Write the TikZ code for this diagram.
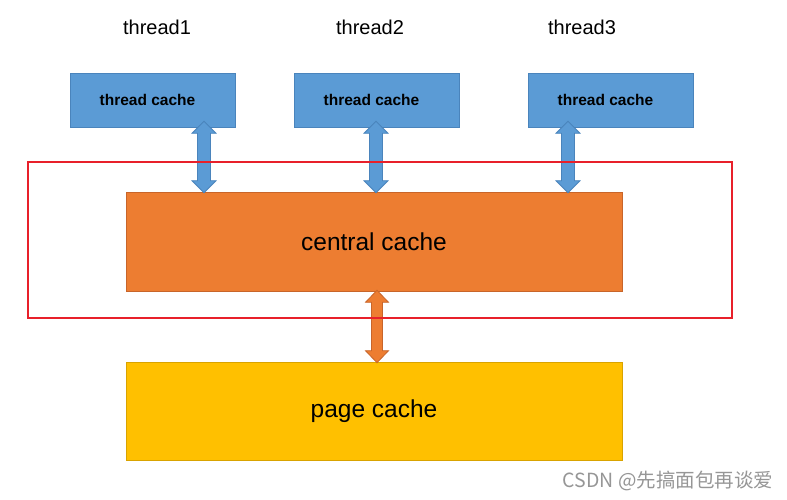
\documentclass[tikz,border=0pt]{standalone}
\usepackage{fontspec}
\setmainfont{Liberation Sans}
\newfontfamily\cjk{Noto Sans CJK SC}
\usetikzlibrary{calc}
\definecolor{tcblue}{HTML}{5B9BD5}
\definecolor{tcedge}{HTML}{4A84BC}
\definecolor{ccorange}{HTML}{ED7D31}
\definecolor{ccedge}{HTML}{C8652A}
\definecolor{pcyellow}{HTML}{FFC000}
\definecolor{framered}{HTML}{E8202A}
\definecolor{wmgray}{RGB}{150,150,150}
% vertical double block arrow: #1 style, #2 top point, #3 bottom point,
% #4 half shaft width, #5 half head width, #6 head length
\newcommand{\vdarrow}[6]{%
  \path let \p1=(#2), \p2=(#3) in [#1]
    (\x1,\y1) -- ({\x1+#5},{\y1-#6}) -- ({\x1+#4},{\y1-#6}) -- ({\x1+#4},{\y2+#6})
    -- ({\x1+#5},{\y2+#6}) -- (\x1,\y2) -- ({\x1-#5},{\y2+#6}) -- ({\x1-#4},{\y2+#6})
    -- ({\x1-#4},{\y1-#6}) -- ({\x1-#5},{\y1-#6}) -- cycle;}
\begin{document}
\begin{tikzpicture}[x=1pt,y=-1pt,
  tlabel/.style={font=\fontsize{20}{23}\selectfont, inner sep=0pt},
  tcbox/.style={fill=tcblue, draw=tcedge, line width=0.6pt, minimum width=165pt, minimum height=54pt, inner sep=0pt, font=\fontsize{15.5}{18}\selectfont\bfseries},
  bigbox/.style={minimum width=496pt, inner sep=0pt, line width=0.6pt, font=\fontsize{24.5}{28}\selectfont},
  barrow/.style={fill=tcblue, draw=tcedge, line width=0.8pt, line join=miter},
  oarrow/.style={fill=ccorange, draw=ccedge, line width=0.8pt, line join=miter},
]
\useasboundingbox (0,0) rectangle (787,500);
\fill[white] (0,0) rectangle (787,500);

\node[tlabel] (t1) at (157,27) {thread1};
\node[tlabel] (t2) at (370,27) {thread2};
\node[tlabel] (t3) at (582,27) {thread3};

\node[tcbox] (tc1) at (152.5,100) {\hspace*{-10pt}thread cache};
\node[tcbox] (tc2) at (376.5,100) {\hspace*{-10pt}thread cache};
\node[tcbox] (tc3) at (610.5,100) {\hspace*{-10pt}thread cache};

\node[bigbox, fill=ccorange, draw=ccedge, minimum height=99pt] (cc) at (374,241.5) {central cache};
\node[bigbox, fill=pcyellow, draw=pcyellow!85!black, minimum height=98pt] (pc) at (374,411) {page cache};

\vdarrow{barrow}{[xshift=51.5pt,yshift=6pt]tc1.south}{[xshift=-170pt,yshift=-1pt]cc.north}{6.5pt}{12pt}{12pt}
\vdarrow{barrow}{[xshift=-0.5pt,yshift=6pt]tc2.south}{[xshift=2pt,yshift=-1pt]cc.north}{6.5pt}{12pt}{12pt}
\vdarrow{barrow}{[xshift=-42.5pt,yshift=6pt]tc3.south}{[xshift=194pt,yshift=-1pt]cc.north}{6.5pt}{12pt}{12pt}
\vdarrow{oarrow}{[xshift=3pt,yshift=1pt]cc.south}{[xshift=3pt,yshift=-1pt]pc.north}{5.5pt}{11.5pt}{12pt}

\node[draw=framered, line width=1.8pt, minimum width=704pt, minimum height=156pt, inner sep=0pt] (frame) at (380,240) {};

\node[font=\cjk\fontsize{19.5}{22}\selectfont, text=wmgray, inner sep=0pt] (wm) at (668,481) {CSDN @先搞面包再谈爱};
\end{tikzpicture}
\end{document}
